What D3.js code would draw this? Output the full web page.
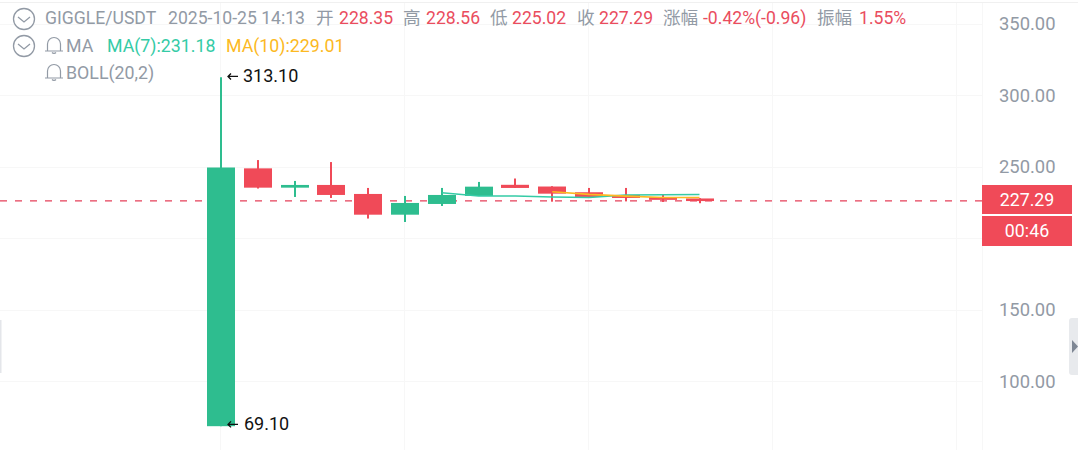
<!DOCTYPE html>
<html>
<head>
<meta charset="utf-8">
<script src="https://cdn.jsdelivr.net/npm/d3@7"></script>
<style>
html, body { margin:0; padding:0; background:#fff; overflow:hidden; }
text { font-family:Roboto, "Noto Sans CJK SC", sans-serif; }
</style>
</head>
<body>
<div id="chart"></div>
<script>
// candles, left to right
const opens  = [69.1, 249.4, 235.9, 237.8, 231.5, 217, 224.5, 230.1, 237.9, 236.7, 232.7, 230.8, 229.2, 228.35];
const closes = [250, 235.9, 237.8, 230.8, 217, 225.2, 230.8, 236.6, 235.7, 231.7, 229.4, 228.7, 227.6, 227.29];
const highs  = [313.1, 255.2, 240.6, 253.8, 235.7, 230.1, 235.7, 239.9, 242.3, 236.9, 235.7, 235.7, 231.1, 228.56];
const lows   = [69.1, 235.3, 229.4, 228.7, 214.3, 211.9, 223.1, 230.1, 235.7, 226.1, 229.2, 226.3, 225.9, 225.02];

// moving averages start late, null until then
const ma7  = [null, null, null, null, null, null, 232.4, 230.1, 230.1, 229.4, 229, 230.8, 231, 231.18];
const ma10 = [null, null, null, null, null, null, null, null, null, 233, 231.2, 230, 229, 229.01];

const priceTicks = [350, 300, 250, 200, 150, 100];
const priceLabels = [350, 300, 250, 150, 100]; // 200.00 sits behind the price tag
const gridSteps = [0, 5, 10, 15, 20];

const lastPrice = 227.29;
const countdown = '00:46';
const maxLabel = '313.10';
const minLabel = '69.10';

const headerRow = [
    ['GIGGLE/USDT', 45, 'gray'], ['2025-10-25 14:13', 168, 'gray'],
    ['开', 316, 'gray'], ['228.35', 339, 'red'],
    ['高', 403, 'gray'], ['228.56', 426, 'red'],
    ['低', 490, 'gray'], ['225.02', 512, 'red'],
    ['收', 577, 'gray'], ['227.29', 599, 'red'],
    ['涨幅', 663, 'gray'], ['-0.42%(-0.96)', 703, 'red'],
    ['振幅', 817, 'gray'], ['1.55%', 859, 'red']
];

const width = 1078, height = 450;
const colors = {gray:'#929aa5', red:'#ea4d5e', green:'#2ebd8f', candleRed:'#f04a58', teal:'#35cba6', amber:'#fcb923', grid:'#f7f7f7'};

const x = d3.scaleLinear().domain([0, 13]).range([221, 699.5]);
const y = d3.scaleLinear().domain([100, 300]).range([382, 96]);

const svg = d3.select('#chart').append('svg')
    .attr('width', width)
    .attr('height', height)
    .style('display', 'block');

// grid
svg.append('line').attr('x1', 0).attr('x2', width).attr('y1', 2.5).attr('y2', 2.5).attr('stroke', '#f0f0f0');

svg.append('g').selectAll('line').data(priceTicks).join('line')
    .attr('x1', 0).attr('x2', 982)
    .attr('y1', d => Math.round(y(d)) - 0.5).attr('y2', d => Math.round(y(d)) - 0.5)
    .attr('stroke', colors.grid);

svg.append('g').selectAll('line').data(gridSteps).join('line')
    .attr('x1', d => Math.round(x(d)) - 0.5).attr('x2', d => Math.round(x(d)) - 0.5)
    .attr('y1', 3).attr('y2', height)
    .attr('stroke', colors.grid);

svg.append('line').attr('x1', 982.5).attr('x2', 982.5).attr('y1', 3).attr('y2', height).attr('stroke', colors.grid);

// price axis
const axis = svg.append('g')
    .attr('transform', 'translate(999,-0.5)')
    .call(d3.axisRight(y).tickValues(priceLabels).tickSize(0).tickPadding(0).tickFormat(d3.format('.2f')));
axis.select('.domain').remove();
axis.selectAll('text').attr('fill', colors.gray).style('font-size', '18.4px');

// last price line
svg.append('line')
    .attr('x1', 0).attr('x2', 990)
    .attr('y1', y(lastPrice) + 0.8).attr('y2', y(lastPrice) + 0.8)
    .attr('stroke', '#e5405a')
    .attr('stroke-width', 1.2)
    .attr('stroke-dasharray', '7 8');

// candles
const candles = svg.append('g').selectAll('g').data(opens).join('g')
    .attr('fill', (d, i) => closes[i] >= d ? colors.green : colors.candleRed);

candles.append('rect')
    .attr('x', (d, i) => Math.round(x(i)) - 1)
    .attr('width', 2)
    .attr('y', (d, i) => y(highs[i]))
    .attr('height', (d, i) => y(lows[i]) - y(highs[i]));

candles.append('rect')
    .attr('x', (d, i) => Math.round(x(i)) - 14)
    .attr('width', 28)
    .attr('y', (d, i) => y(Math.max(d, closes[i])))
    .attr('height', (d, i) => Math.max(2.6, Math.abs(y(d) - y(closes[i]))));

// moving averages
const maLine = d3.line()
    .defined(d => d != null)
    .x((d, i) => x(i))
    .y(d => y(d));

svg.append('path').attr('d', maLine(ma7)).attr('fill', 'none').attr('stroke', colors.teal).attr('stroke-width', 1.5);
svg.append('path').attr('d', maLine(ma10)).attr('fill', 'none').attr('stroke', colors.amber).attr('stroke-width', 1.6);

// max and min marks
function extremeMark(index, value, label, textX, nudge) {
    const my = y(value) + nudge;
    const ax = x(index) + 6;
    svg.append('path')
        .attr('d', `M${ax + 11},${my}H${ax + 1}M${ax + 4},${my - 3}L${ax + 1},${my}L${ax + 4},${my + 3}`)
        .attr('fill', 'none').attr('stroke', '#111').attr('stroke-width', 1.3);
    svg.append('text').attr('x', textX).attr('y', my + 5.5)
        .attr('fill', '#111').style('font-size', '18px').text(label);
}
extremeMark(0, 313.1, maxLabel, 243, -0.8);
extremeMark(0, 69.1, minLabel, 244, -1.8);

// last price tag and countdown
svg.append('rect').attr('x', 982).attr('y', 185).attr('width', 90).attr('height', 29).attr('fill', colors.candleRed);
svg.append('rect').attr('x', 982).attr('y', 216).attr('width', 90).attr('height', 30).attr('fill', colors.candleRed);
svg.append('text').attr('x', 1027).attr('y', 206).attr('text-anchor', 'middle').attr('fill', '#fff')
    .style('font-size', '17.8px').text(lastPrice.toFixed(2));
svg.append('text').attr('x', 1027).attr('y', 237).attr('text-anchor', 'middle').attr('fill', '#fff')
    .style('font-size', '17.8px').text(countdown);

// legend
svg.append('g').selectAll('text').data(headerRow).join('text')
    .attr('x', d => d[1]).attr('y', 24)
    .attr('fill', d => colors[d[2]])
    .style('font-size', '17.6px')
    .text(d => d[0]);

function chevronIcon(cy) {
    svg.append('circle').attr('cx', 24).attr('cy', cy).attr('r', 10.5)
        .attr('fill', '#fff').attr('stroke', colors.gray).attr('stroke-width', 1.3);
    svg.append('path').attr('d', `M18,${cy - 2}L24,${cy + 3}L30,${cy - 2}`)
        .attr('fill', 'none').attr('stroke', colors.gray).attr('stroke-width', 1.3);
}
chevronIcon(19);
chevronIcon(46);

function bellIcon(cy) {
    svg.append('path')
        .attr('d', `M45,${cy + 6}H63M47.5,${cy + 6}V${cy - 1}a6.5,6.5 0 0 1 13,0V${cy + 6}M52,${cy + 7.5}a2.5,2 0 0 0 4,0`)
        .attr('fill', 'none').attr('stroke', colors.gray).attr('stroke-width', 1.2);
}
bellIcon(45);
bellIcon(72);

function legendText(label, tx, ty, fill) {
    svg.append('text').attr('x', tx).attr('y', ty).attr('fill', fill).style('font-size', '17.8px').text(label);
}
legendText('MA', 66, 52, colors.gray);
legendText('MA(7):231.18', 107, 52, colors.teal);
legendText('MA(10):229.01', 226, 52, colors.amber);
legendText('BOLL(20,2)', 66, 79, colors.gray);

// side handles
svg.append('rect').attr('x', 0).attr('y', 320).attr('width', 1.5).attr('height', 53).attr('fill', '#e4e6ea');
svg.append('rect').attr('x', 1069).attr('y', 318).attr('width', 12).attr('height', 57).attr('rx', 3).attr('fill', '#e8eaed');
svg.append('path').attr('d', 'M1072,340V353L1078,346.5Z').attr('fill', '#7e8794');
</script>
</body>
</html>
